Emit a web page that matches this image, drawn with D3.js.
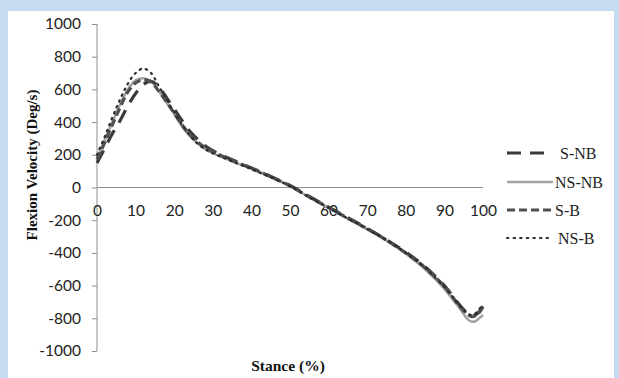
<!DOCTYPE html>
<html lang="en">
<head>
<meta charset="UTF-8">
<title>Flexion Velocity</title>
<script src="https://cdn.jsdelivr.net/npm/d3@7"></script>
<style>
  body { margin: 0; background: #c6dbf1; }
</style>
</head>
<body>
<script>
    // stance (%) sample points shared by every series
    var stance = [0, 2, 4, 6, 8, 10, 12, 14, 16, 18, 20, 22, 24, 26, 28, 30, 35, 40, 45, 50,
                  55, 60, 65, 70, 75, 80, 85, 90, 92, 94, 96, 97, 98, 99, 100];

    var sNB  = [150, 240, 330, 410, 500, 575, 630, 650, 615, 550, 480, 410, 345, 295, 255, 225, 170, 120, 68, 12,
                -55, -120, -185, -250, -320, -395, -485, -600, -660, -720, -770, -785, -780, -760, -720];
    var nsNB = [175, 290, 400, 510, 600, 655, 668, 650, 590, 520, 450, 375, 315, 270, 235, 210, 160, 115, 65, 10,
                -60, -125, -190, -255, -325, -405, -500, -620, -680, -740, -805, -820, -818, -800, -780];
    var sB   = [170, 275, 385, 490, 585, 640, 660, 645, 590, 525, 455, 385, 325, 280, 245, 220, 165, 118, 66, 10,
                -58, -122, -188, -252, -322, -400, -490, -605, -665, -728, -775, -790, -785, -765, -730];
    var nsB  = [200, 310, 430, 540, 635, 700, 728, 700, 620, 540, 460, 385, 320, 270, 235, 210, 160, 112, 62, 8,
                -60, -125, -190, -255, -322, -400, -492, -610, -665, -725, -770, -780, -770, -745, -715];

    var seriesNames = ["S-NB", "NS-NB", "S-B", "NS-B"];
    var xTicks = [0, 10, 20, 30, 40, 50, 60, 70, 80, 90, 100];
    var yTicks = [-1000, -800, -600, -400, -200, 0, 200, 400, 600, 800, 1000];

    var width = 619, height = 378;
    var svg = d3.select("body").append("svg")
        .attr("width", width)
        .attr("height", height)
        .style("display", "block");

    svg.append("rect")
        .attr("x", 8).attr("y", 11)
        .attr("width", 606).attr("height", 367)
        .attr("fill", "#fff");

    var x = d3.scaleLinear().domain([0, 100]).range([97, 483]);
    var y = d3.scaleLinear().domain([-1000, 1000]).range([351, 24]);

    var axisColor = "#8f8f8f";
    var tickFont = "Lato, 'Liberation Sans', sans-serif";

    // y axis
    var yAxis = svg.append("g")
        .attr("transform", "translate(" + x(0) + ",0)")
        .call(d3.axisLeft(y).tickValues(yTicks).tickSize(5).tickPadding(11)
            .tickFormat(function (d) { return String(d); }));
    yAxis.select(".domain").attr("stroke", axisColor).attr("d", "M0," + y(1000) + "V" + y(-1000));
    yAxis.selectAll(".tick line").attr("stroke", axisColor);
    yAxis.selectAll(".tick text")
        .attr("fill", "#222")
        .style("font-family", tickFont)
        .style("font-size", "15.5px");

    // x axis on the zero line, labels just below it
    var xAxis = svg.append("g")
        .attr("transform", "translate(0," + y(0) + ")")
        .call(d3.axisBottom(x).tickValues(xTicks).tickSize(0).tickPadding(17));
    xAxis.select(".domain").attr("stroke", axisColor).attr("d", "M" + x(0) + ",0H" + x(100));
    xAxis.selectAll(".tick text")
        .attr("fill", "#222")
        .style("font-family", tickFont)
        .style("font-size", "15.5px");

    // series
    var styles = {
        "S-NB":  { data: sNB,  color: "#3a3a3a", width: 3.2, dash: "14,9", cap: "butt", x2: 547 },
        "NS-NB": { data: nsNB, color: "#a3a3a3", width: 2.6, dash: null,   cap: "butt", x2: 553 },
        "S-B":   { data: sB,   color: "#505050", width: 3.2, dash: "8,4",  cap: "butt", x2: 552 },
        "NS-B":  { data: nsB,  color: "#2e2e2e", width: 2.2, dash: "1.4,5", cap: "round", x2: 551 }
    };

    var line = d3.line()
        .x(function (d) { return x(d[0]); })
        .y(function (d) { return y(d[1]); })
        .curve(d3.curveCatmullRom);

    var drawOrder = ["NS-NB", "S-NB", "S-B", "NS-B"];
    drawOrder.forEach(function (name) {
        var s = styles[name];
        var pts = stance.map(function (v, i) { return [v, s.data[i]]; });
        svg.append("path")
            .attr("d", line(pts))
            .attr("fill", "none")
            .attr("stroke", s.color)
            .attr("stroke-width", s.width)
            .attr("stroke-linecap", s.cap)
            .attr("stroke-dasharray", s.dash);
    });

    // legend
    var legendY = [153, 182, 210, 238];
    var legend = svg.append("g");
    seriesNames.forEach(function (name, i) {
        var s = styles[name];
        legend.append("line")
            .attr("x1", 507).attr("x2", s.x2)
            .attr("y1", legendY[i]).attr("y2", legendY[i])
            .attr("stroke", s.color)
            .attr("stroke-width", s.width)
            .attr("stroke-linecap", s.cap)
            .attr("stroke-dasharray", name === "NS-B" ? "1.4,5.2" : s.dash);
        legend.append("text")
            .attr("x", i === 0 ? 560 : (i === 3 ? 558 : 555))
            .attr("y", legendY[i] + 5.5)
            .attr("fill", "#222")
            .style("font-family", "'Liberation Serif', 'Times New Roman', serif")
            .style("font-size", "16px")
            .text(name);
    });

    // axis titles
    svg.append("text")
        .attr("transform", "translate(37,165) rotate(-90)")
        .attr("text-anchor", "middle")
        .attr("fill", "#111")
        .style("font-family", "'Liberation Serif', 'Times New Roman', serif")
        .style("font-weight", "bold")
        .style("font-size", "15px")
        .text("Flexion Velocity (Deg/s)");

    svg.append("text")
        .attr("x", 288).attr("y", 371)
        .attr("text-anchor", "middle")
        .attr("fill", "#111")
        .style("font-family", "'Liberation Serif', 'Times New Roman', serif")
        .style("font-weight", "bold")
        .style("font-size", "15.5px")
        .text("Stance (%)");
</script>
</body>
</html>
